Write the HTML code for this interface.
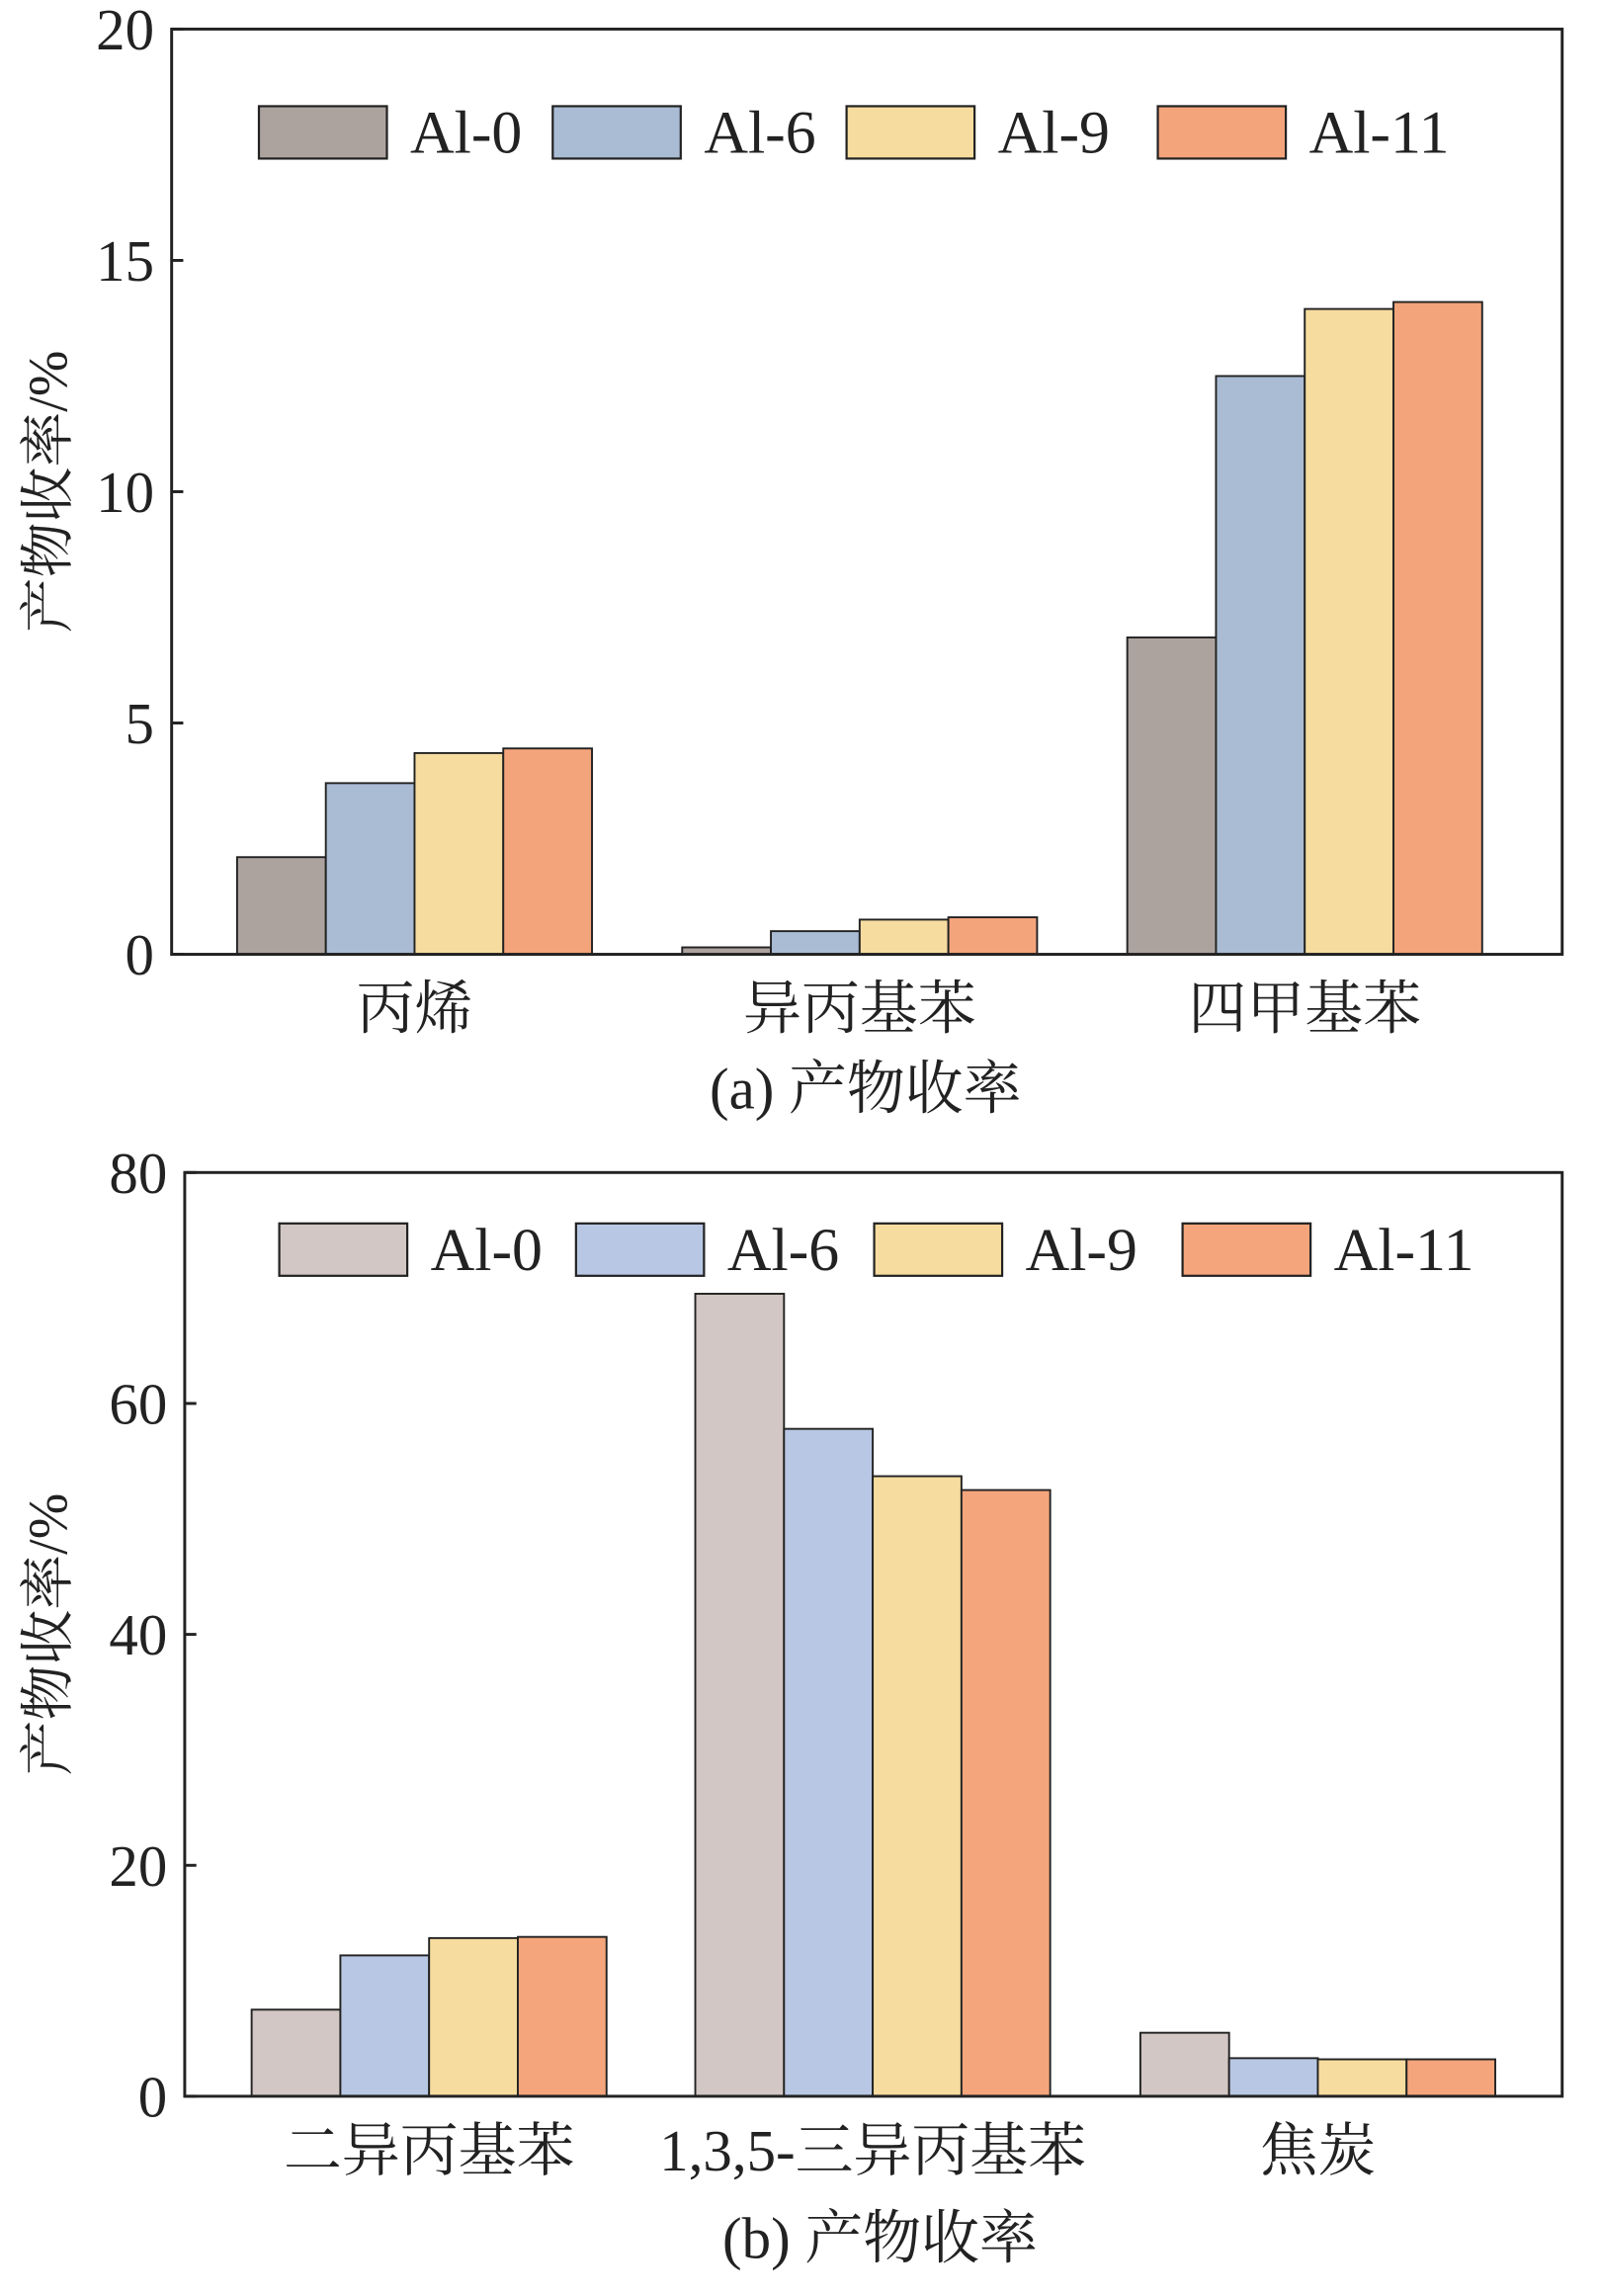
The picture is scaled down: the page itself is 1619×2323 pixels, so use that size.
<!DOCTYPE html>
<html><head><meta charset="utf-8">
<style>
html,body{margin:0;padding:0;background:#fff;}
svg{display:block;}
text{font-family:"Liberation Serif","Noto Serif CJK SC","Noto Sans CJK SC",serif;fill:#222;}
</style></head>
<body>
<svg id="fig" width="1619" height="2323" viewBox="0 0 1100 1578.3" preserveAspectRatio="none" xmlns="http://www.w3.org/2000/svg"></svg>
<script>
const seriesNames = ["Al-0","Al-6","Al-9","Al-11"];
const catsA = ["丙烯","异丙基苯","四甲基苯"];
const a_Al0 = [2.1, 0.15, 6.85];
const a_Al6 = [3.7, 0.5, 12.5];
const a_Al9 = [4.35, 0.75, 13.95];
const a_Al11 = [4.45, 0.8, 14.1];
const ticksA = [0,5,10,15,20];
const catsB = ["二异丙基苯","1,3,5-三异丙基苯","焦炭"];
const b_Al0 = [7.5, 69.5, 5.5];
const b_Al6 = [12.2, 57.8, 3.3];
const b_Al9 = [13.7, 53.7, 3.2];
const b_Al11 = [13.8, 52.5, 3.2];
const ticksB = [0,20,40,60,80];

const NS="http://www.w3.org/2000/svg";
const svg=document.getElementById('fig');
function mk(tag,attrs,parent){const e=document.createElementNS(NS,tag);for(const k in attrs)e.setAttribute(k,attrs[k]);(parent||svg).appendChild(e);return e;}

function drawChart(cfg){
  const g=mk('g',{});
  
  
  const y=v=>cfg.bottom-(v/cfg.max)*(cfg.bottom-cfg.top);
  const bw=61;
  cfg.series.forEach((vals,si)=>{
    vals.forEach((v,ci)=>{
      const x=cfg.groupStart[ci]+si*bw;
      const r=mk('rect',{x:x,y:y(v),width:bw,height:cfg.bottom-y(v),fill:cfg.colors[si],stroke:'#222','stroke-width':1.3},g);
      
      
    });
  });
  const frame=mk('rect',{x:cfg.left,y:cfg.top,width:cfg.right-cfg.left,height:cfg.bottom-cfg.top,fill:'none',stroke:'#222','stroke-width':2},g);
  
  
  cfg.ticks.forEach(t=>{
    mk('line',{x1:cfg.left,x2:cfg.left+8,y1:y(t),y2:y(t),stroke:'#222','stroke-width':2},g);
    const tx=mk('text',{x:cfg.left-12,y:y(t)+14,'text-anchor':'end','font-size':40},g);
    tx.textContent=t;
    
    
  });
  cfg.cats.forEach((c,ci)=>{
    const cx=cfg.groupStart[ci]+2*bw;
    const tx=mk('text',{x:cx,y:cfg.catY,'text-anchor':'middle','font-size':40},g);
    tx.textContent=c;
    
    
  });
  const yt=mk('text',{x:0,y:0,'text-anchor':'middle','font-size':38,transform:`translate(46,${(cfg.top+cfg.bottom)/2}) rotate(-90)`},g);
  yt.textContent='产物收率/%';
  
  
  const cap=mk('text',{x:cfg.capX,y:cfg.capY,'text-anchor':'middle','font-size':40},g);
  cap.textContent=cfg.caption;
  
  
  seriesNames.forEach((n,si)=>{
    const lg=mk('g',{},g);
    
    
    mk('rect',{x:cfg.legX[si],y:cfg.legY,width:88,height:36,fill:cfg.colors[si],stroke:'#222','stroke-width':1.5},lg);
    const t=mk('text',{x:cfg.legX[si]+104,y:cfg.legY+32,'font-size':42},lg);
    t.textContent=n;
  });
}

drawChart({name:'chart-a',left:118,right:1074,top:20,bottom:656,max:20,ticks:ticksA,
  series:[a_Al0,a_Al6,a_Al9,a_Al11],cats:catsA,groupStart:[163,469,775],
  colors:['#aca39f','#aabbd4','#f6dc9f','#f4a47b'],
  catY:707,capX:595,capY:762,caption:'(a) 产物收率',legX:[178,380,582,796],legY:73});
drawChart({name:'chart-b',left:127,right:1074,top:806,bottom:1441,max:80,ticks:ticksB,
  series:[b_Al0,b_Al6,b_Al9,b_Al11],cats:catsB,groupStart:[173,478,784],
  colors:['#d2c7c4','#b8c7e3','#f6dc9e','#f4a57b'],
  catY:1492,capX:605,capY:1552,caption:'(b) 产物收率',legX:[192,396,601,813],legY:841});
</script>
</body></html>
